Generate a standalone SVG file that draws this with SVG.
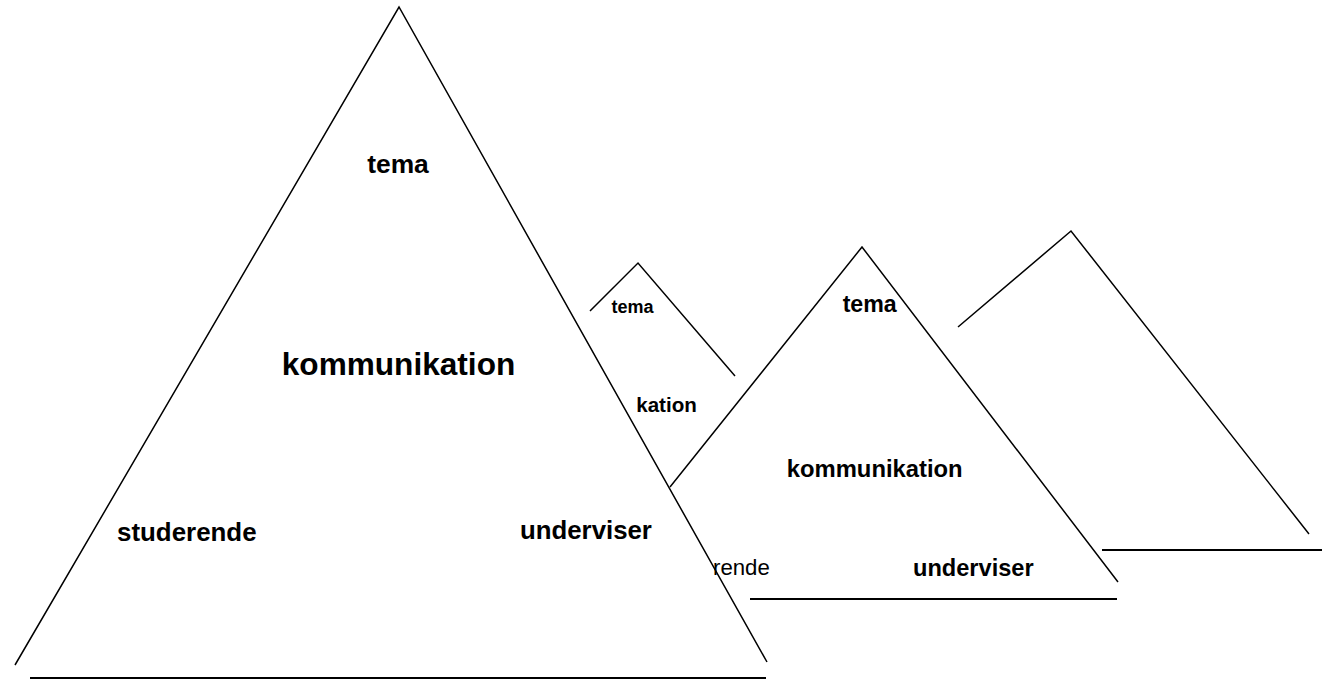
<svg xmlns="http://www.w3.org/2000/svg" width="1322" height="680" viewBox="0 0 1322 680">
<style>
.edge{stroke:#000;stroke-width:1.5;fill:none;stroke-linecap:butt}
.base{stroke:#000;stroke-width:2.2;fill:none}
.b{font-family:"Liberation Sans",Arial,sans-serif;font-weight:bold;fill:#000}
.r{font-family:"Liberation Sans",Arial,sans-serif;fill:#000}
</style>
<rect width="1322" height="680" fill="#fff"/>
<g id="triangle-right">
<polyline class="edge" points="958,327 1071,231 1309,534"/>
<line class="base" x1="1102" y1="550" x2="1322" y2="550"/>
</g>
<g id="triangle-small">
<polyline class="edge" points="590,311 638,263 735,376"/>
<text class="b" x="632.5" y="313" font-size="18" text-anchor="middle">tema</text>
<text class="b" x="666.5" y="412" font-size="20.6" text-anchor="middle">kation</text>
</g>
<g id="triangle-medium">
<polyline class="edge" points="670,487 862,247 1118,582"/>
<line class="base" x1="750" y1="599" x2="1117" y2="599"/>
<text class="b" x="869.7" y="312" font-size="23.2" text-anchor="middle">tema</text>
<text class="b" x="874.7" y="477" font-size="23.8" text-anchor="middle">kommunikation</text>
<text class="b" x="913" y="576" font-size="23.6">underviser</text>
<text class="r" x="713" y="575" font-size="22.2">rende</text>
</g>
<g id="triangle-big">
<polyline class="edge" points="15,665 399,7 767,662"/>
<line class="base" x1="30" y1="678" x2="766" y2="678"/>
<text class="b" x="398" y="173" font-size="26.4" text-anchor="middle">tema</text>
<text class="b" x="398.5" y="375" font-size="31.6" text-anchor="middle">kommunikation</text>
<text class="b" x="117" y="540.5" font-size="25.9">studerende</text>
<text class="b" x="520" y="538.5" font-size="25.8">underviser</text>
</g>
<g id="connectors"/>
</svg>
